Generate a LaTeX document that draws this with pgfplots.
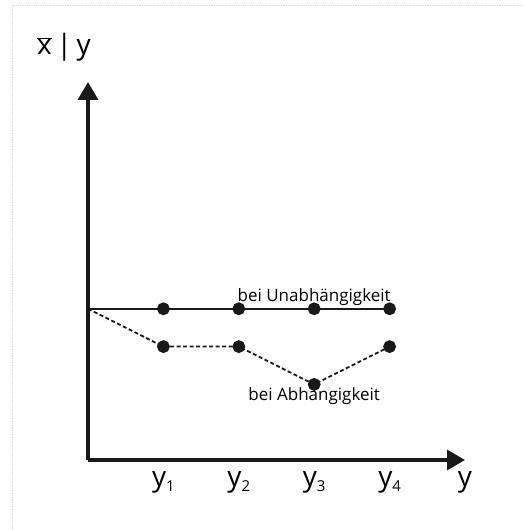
\documentclass[border=0pt]{standalone}
\usepackage{fontspec}
\setmainfont{Open Sans}
\usepackage{pgfplots}
\pgfplotsset{compat=1.18}
\usetikzlibrary{arrows.meta}
\newcommand{\sub}[1]{\raisebox{-5pt}{\fontsize{15}{15}\selectfont #1}}
\begin{document}
\begin{tikzpicture}
\useasboundingbox (0pt,0pt) rectangle (524pt,530pt);
\draw[black!15, densely dotted, line width=0.8pt] (12pt,0pt) -- (12pt,525pt) -- (524pt,525pt);
\begin{axis}[
  at={(88pt,70pt)}, anchor=south west,
  scale only axis, width=377pt, height=378pt,
  xmin=0, xmax=5, ymin=0, ymax=10,
  axis lines=left,
  every outer x axis line/.append style={line width=3.4pt, black!90, -{Triangle[length=18pt,width=20pt]}},
  every outer y axis line/.append style={line width=3.4pt, black!90, -{Triangle[length=18pt,width=20pt]}},
  xtick={1,2,3,4},
  xticklabels={y\sub{1}, y\sub{2}, y\sub{3}, y\sub{4}},
  ytick=\empty,
  major tick length=0pt,
  xticklabel style={font=\fontsize{28}{28}\selectfont, anchor=base, yshift=-27pt},
  clip=false,
]
\addplot[line width=1.8pt, black!90, mark=*, mark size=5.5pt, mark indices={2,3,4,5}, mark options={solid}] coordinates {(0,4) (1,4) (2,4) (3,4) (4,4)};
\addplot[line width=1.8pt, black!90, dash pattern=on 4pt off 2.5pt, mark=*, mark size=5.5pt, mark indices={2,3,4,5}, mark options={solid}] coordinates {(0,4) (1,3) (2,3) (3,2) (4,3)};
\node[font=\fontsize{17}{17}\selectfont, anchor=base] at (axis cs:3,4.2) {bei Unabhängigkeit};
\node[font=\fontsize{17}{17}\selectfont, anchor=base] at (axis cs:3,1.58) {bei Abhängigkeit};
\end{axis}
\node[font=\fontsize{28}{28}\selectfont, anchor=base west, inner sep=0pt] at (37pt,475pt) {$\overline{\mbox{x}}$\,|\,y};
\node[font=\fontsize{28}{28}\selectfont, anchor=base, inner sep=0pt] at (465pt,43pt) {y};
\end{tikzpicture}
\end{document}
